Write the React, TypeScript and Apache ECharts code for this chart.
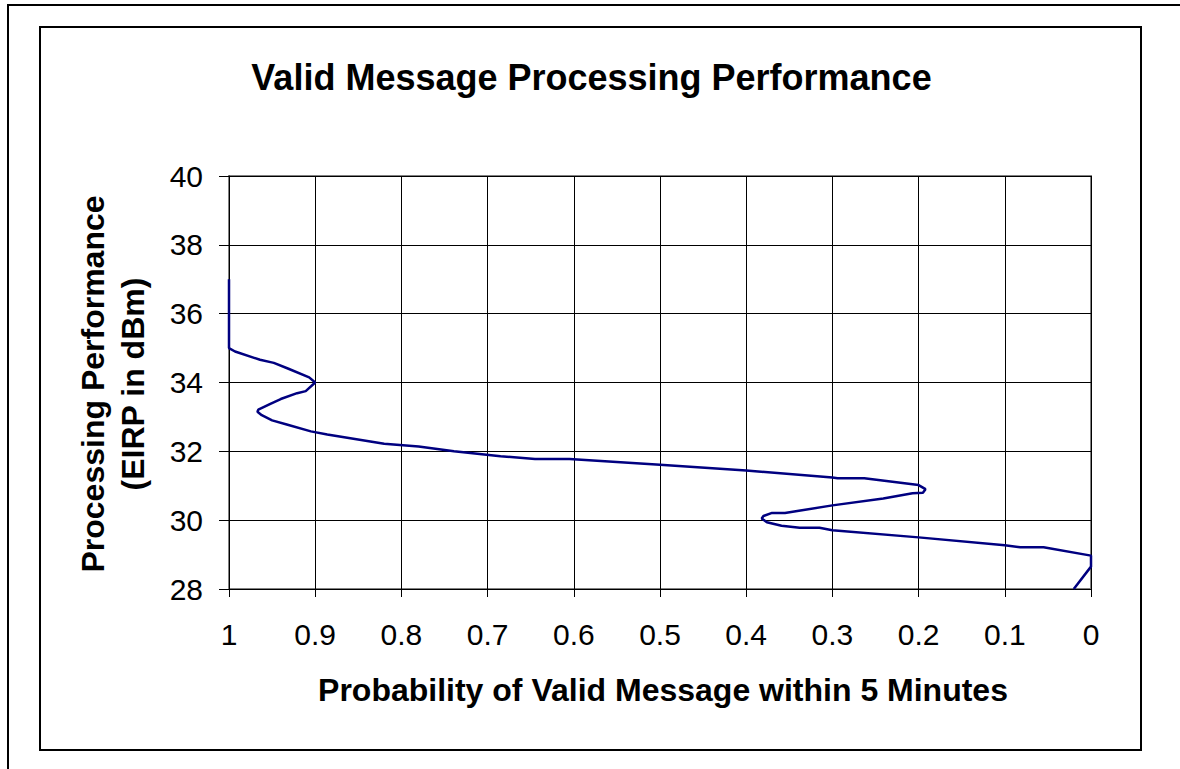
import React, { useEffect, useRef } from "react";
import * as echarts from "echarts";

const titleText = "Valid Message Processing Performance";
const xAxisName = "Probability of Valid Message within 5 Minutes";
const yAxisName = "Processing Performance\n(EIRP in dBm)";

const probability = [
  1.0, 1.0, 0.993, 0.964, 0.948, 0.931, 0.907, 0.9, 0.911, 0.921, 0.94, 0.952,
  0.966, 0.967, 0.962, 0.95, 0.933, 0.905, 0.886, 0.82, 0.78, 0.739, 0.685,
  0.645, 0.605, 0.5, 0.4, 0.3, 0.294, 0.263, 0.221, 0.2, 0.192, 0.195, 0.207,
  0.241, 0.3, 0.355, 0.37, 0.38, 0.382, 0.376, 0.359, 0.338, 0.315, 0.3, 0.2,
  0.1, 0.082, 0.055, 0.0, 0.0, 0.02,
];
const eirp = [
  37.0, 35.0, 34.9, 34.66, 34.57, 34.4, 34.15, 34.0, 33.75, 33.69, 33.52, 33.38,
  33.21, 33.15, 33.05, 32.9, 32.78, 32.58, 32.49, 32.22, 32.14, 32.0, 31.86,
  31.78, 31.78, 31.61, 31.44, 31.24, 31.22, 31.22, 31.09, 31.02, 30.9, 30.8,
  30.78, 30.63, 30.43, 30.21, 30.21, 30.12, 30.05, 29.94, 29.84, 29.78, 29.78,
  29.71, 29.5, 29.27, 29.21, 29.21, 28.97, 28.65, 28.0,
];

const FONT = "'Liberation Sans', Arial, sans-serif";

export default function App() {
  const ref = useRef<HTMLDivElement>(null);
  useEffect(() => {
    if (!ref.current) return;
    const chart = echarts.init(ref.current, undefined, { renderer: "svg" });
    const data = probability.map((p, i) => [p, eirp[i]]);
    chart.setOption({
      animation: false,
      backgroundColor: "#fff",
      grid: {
        left: 229,
        top: 176,
        width: 862,
        height: 413,
        show: true,
        borderColor: "#808080",
        borderWidth: 2,
        containLabel: false,
      },
      xAxis: {
        type: "value",
        min: 0,
        max: 1,
        interval: 0.1,
        inverse: true,
        axisLine: { show: true, onZero: false, lineStyle: { color: "#000", width: 1 } },
        axisTick: { show: true, length: 8, lineStyle: { color: "#000", width: 1 } },
        splitLine: { show: true, lineStyle: { color: "#000", width: 1 } },
        axisLabel: { fontSize: 30, color: "#000", fontFamily: FONT, margin: 30 },
      },
      yAxis: {
        type: "value",
        min: 28,
        max: 40,
        interval: 2,
        axisLine: { show: true, onZero: false, lineStyle: { color: "#000", width: 1 } },
        axisTick: { show: true, length: 10, lineStyle: { color: "#000", width: 1 } },
        splitLine: { show: true, lineStyle: { color: "#000", width: 1 } },
        axisLabel: { fontSize: 30, color: "#000", fontFamily: FONT, margin: 26 },
      },
      graphic: [
        {
          type: "rect",
          shape: { x: 8, y: 5, width: 1200, height: 800 },
          style: { fill: "none", stroke: "#000", lineWidth: 2 },
          silent: true,
        },
        {
          type: "rect",
          shape: { x: 40, y: 27, width: 1101, height: 723 },
          style: { fill: "none", stroke: "#000", lineWidth: 2 },
          silent: true,
        },
        {
          type: "text",
          x: 591.5,
          y: 77.5,
          style: {
            text: titleText,
            font: `bold 36px ${FONT}`,
            fill: "#000",
            textAlign: "center",
            textVerticalAlign: "middle",
          },
        },
        {
          type: "text",
          x: 663,
          y: 690,
          style: {
            text: xAxisName,
            font: `bold 32px ${FONT}`,
            fill: "#000",
            textAlign: "center",
            textVerticalAlign: "middle",
          },
        },
        {
          type: "text",
          x: 112.75,
          y: 384,
          rotation: Math.PI / 2,
          style: {
            text: yAxisName,
            font: `bold 32px ${FONT}`,
            lineHeight: 39.5,
            fill: "#000",
            textAlign: "center",
            textVerticalAlign: "middle",
          },
        },
      ],
      series: [
        {
          type: "line",
          data,
          showSymbol: false,
          smooth: false,
          clip: true,
          lineStyle: { color: "#000080", width: 2.5 },
        },
      ],
    });
    return () => chart.dispose();
  }, []);
  return (
    <div
      ref={ref}
      style={{ position: "fixed", left: 0, top: 0, width: 1180, height: 769 }}
    />
  );
}
